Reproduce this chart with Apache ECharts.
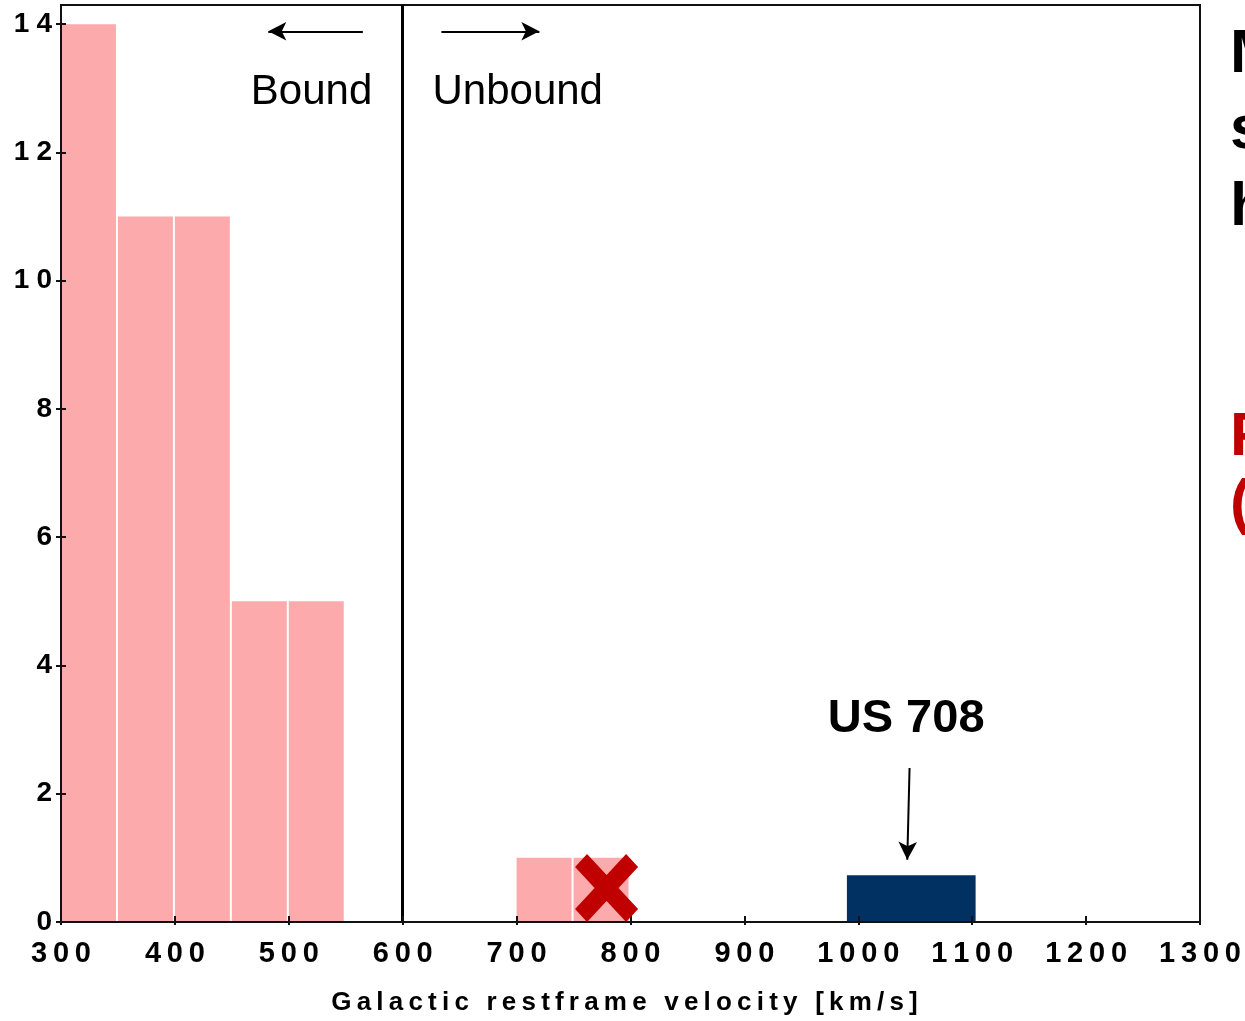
<!DOCTYPE html>
<html><head><meta charset="utf-8">
<script src="https://cdn.jsdelivr.net/npm/echarts@6/dist/echarts.min.js"></script>
<style>html,body{margin:0;padding:0;background:#fff}#c{width:1245px;height:1021px}</style>
</head><body><div id="c"></div>
<script>
// ---- data ----
const binStart = [300, 350, 400, 450, 500, 700, 750];
const binEnd   = [350, 400, 450, 500, 550, 750, 800];
const binCount = [14, 11, 11, 5, 5, 1, 1];
const us708Bin = [990, 1103, 0.73];          // [start, end, height]
const crossPoint = [779, 0.53];              // red X marker
const escapeVelocity = 600;                  // bound / unbound divider
const xTickValues = [300, 400, 500, 600, 700, 800, 900, 1000, 1100, 1200, 1300];
const yTickValues = [0, 2, 4, 6, 8, 10, 12, 14];
const xAxisTitle = 'Galactic restframe velocity [km/s]';
const boundArrow = [[565, 13.89], [482, 13.89]];
const unboundArrow = [[634, 13.89], [720, 13.89]];
const usArrow = [[1045, 2.4], [1043, 0.97]];
const annotationText = ['Bound', 'Unbound', 'US 708'];
const annotationX = [520, 701, 1042];
const annotationY = [12.94, 12.94, 3.17];
const sideTexts = [
  { text: 'M', color: '#000', y: 55 },
  { text: 's', color: '#000', y: 131 },
  { text: 'h', color: '#000', y: 208 },
  { text: 'F', color: '#c00000', y: 438 },
  { text: '(', color: '#c00000', y: 505 }
];

const FONT = '"Liberation Sans", Arial, Helvetica, sans-serif';
const spaced = s => String(s).split('').join('\u2009');

const histData = binStart.map((s, i) => [s, binEnd[i], binCount[i]]);
const annData = annotationText.map((t, i) => [annotationX[i], annotationY[i], i]);

function barRender(gap) {
  return function (params, api) {
    const p0 = api.coord([api.value(0), api.value(2)]);
    const p1 = api.coord([api.value(1), 0]);
    return {
      type: 'rect',
      shape: { x: p0[0], y: p0[1], width: p1[0] - p0[0] - gap, height: p1[1] - p0[1] },
      style: { fill: api.visual('color') }
    };
  };
}

const chart = echarts.init(document.getElementById('c'));
chart.setOption({
  animation: false,
  backgroundColor: '#fff',
  grid: { left: 61, right: 45, top: 5, bottom: 95, show: true, borderColor: '#111', borderWidth: 2, backgroundColor: 'transparent' },
  xAxis: [{
    type: 'value', min: 300, max: 1300, interval: 100, z: 5,
    axisLine: { show: true, lineStyle: { color: '#111', width: 2 } },
    axisTick: { show: true, inside: true, length: 6, lineStyle: { color: '#111', width: 2 } },
    splitLine: { show: false },
    axisLabel: { margin: 17, color: '#000', fontFamily: FONT, fontWeight: 'bold', fontSize: 29,
      formatter: v => xTickValues.includes(v) ? spaced(v) : '' },
    name: spaced(xAxisTitle), nameLocation: 'middle', nameGap: 68,
    nameTextStyle: { color: '#000', fontFamily: FONT, fontWeight: 'bold', fontSize: 26, padding: [0, 12, 0, 0] }
  }, {
    type: 'value', min: 300, max: 1300, interval: 100, position: 'bottom', z: 5,
    axisLine: { show: false }, axisLabel: { show: false }, splitLine: { show: false },
    axisTick: { show: true, inside: false, length: 3, lineStyle: { color: '#111', width: 2 } }
  }],
  yAxis: [{
    type: 'value', min: 0, max: 14.3, interval: 2, z: 5,
    axisLine: { show: true, lineStyle: { color: '#111', width: 2 } },
    axisTick: { show: true, inside: false, length: 5, lineStyle: { color: '#111', width: 2 } },
    splitLine: { show: false },
    axisLabel: { margin: 9, color: '#000', fontFamily: FONT, fontWeight: 'bold', fontSize: 28, showMaxLabel: false,
      formatter: v => yTickValues.includes(v) ? String(v).split('').join('\u2005') : '' }
  }, {
    type: 'value', min: 0, max: 14.3, interval: 2, position: 'left', z: 5,
    axisLine: { show: false }, axisLabel: { show: false }, splitLine: { show: false },
    axisTick: { show: true, inside: true, length: 5, lineStyle: { color: '#111', width: 2 } }
  }],
  series: [
    {
      type: 'custom', name: 'HVS', xAxisIndex: 0, yAxisIndex: 0, z: 2,
      itemStyle: { color: '#fcaaab' },
      renderItem: barRender(2),
      encode: { x: [0, 1], y: 2 },
      data: histData,
      markLine: {
        silent: true, animation: false, z: 4,
        label: { show: false },
        lineStyle: { color: '#000', width: 2, type: 'solid' },
        symbol: ['none', 'arrow'], symbolSize: [14, 18],
        data: [
          [{ coord: boundArrow[0] }, { coord: boundArrow[1] }],
          [{ coord: unboundArrow[0] }, { coord: unboundArrow[1] }],
          [{ coord: usArrow[0] }, { coord: usArrow[1] }]
        ]
      }
    },
    {
      type: 'custom', name: 'US 708', xAxisIndex: 0, yAxisIndex: 0, z: 2,
      itemStyle: { color: '#003162' },
      renderItem: barRender(0),
      encode: { x: [0, 1], y: 2 },
      data: [us708Bin],
      markLine: {
        silent: true, animation: false, z: 4, symbol: 'none',
        label: { show: false },
        lineStyle: { color: '#000', width: 3, type: 'solid' },
        data: [{ xAxis: escapeVelocity }]
      }
    },
    {
      type: 'scatter', name: 'cross', z: 6,
      symbol: 'path://M0,19 L19,0 L50,31 L81,0 L100,19 L69,50 L100,81 L81,100 L50,69 L19,100 L0,81 L31,50 Z',
      symbolSize: [63, 68],
      itemStyle: { color: '#c00000', opacity: 1 },
      data: [crossPoint]
    },
    {
      type: 'custom', name: 'annotations', z: 6, xAxisIndex: 0, yAxisIndex: 0,
      encode: { x: 0, y: 1 },
      renderItem: function (params, api) {
        const p = api.coord([api.value(0), api.value(1)]);
        const i = api.value(2);
        const isUS = i === 2;
        return {
          type: 'text', x: p[0], y: p[1],
          style: {
            text: annotationText[i], fill: '#000',
            font: (isUS ? 'bold 47px ' : '42px ') + FONT,
            align: 'center', verticalAlign: 'middle'
          }
        };
      },
      data: annData
    }
  ],
  graphic: sideTexts.map(t => ({
    type: 'text', x: 1230, y: t.y, z: 10,
    style: { text: t.text, fill: t.color, font: 'bold 62px ' + FONT, verticalAlign: 'middle', align: 'left' }
  }))
});
</script>
</body></html>
